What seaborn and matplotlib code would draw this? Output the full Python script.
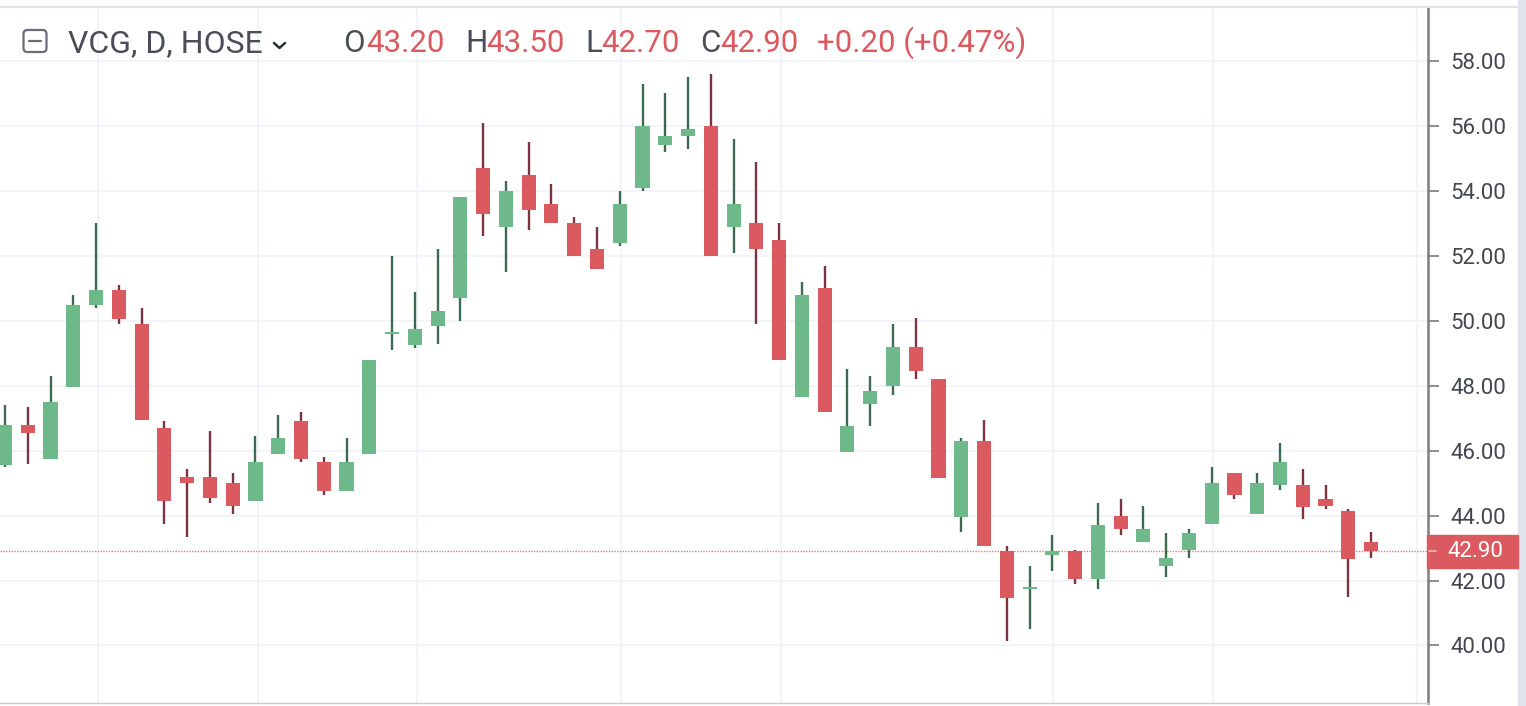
import matplotlib.pyplot as plt
import matplotlib.patches as mpatches
import matplotlib.transforms as mtransforms
from matplotlib.lines import Line2D
import seaborn as sns
import numpy as np

# VCG daily candles (left -> right)
opens = [45.55, 46.80, 45.75, 47.95, 50.50, 50.95, 49.90, 46.70, 45.20, 45.20,
         45.00, 44.45, 45.90, 46.90, 45.65, 44.75, 45.90, 49.60, 49.25, 49.85,
         50.70, 54.70, 52.90, 54.50, 53.60, 53.00, 52.20, 52.40, 54.10, 55.40,
         55.70, 56.00, 52.90, 53.00, 52.50, 47.65, 51.00, 45.95, 47.45, 48.00,
         49.20, 48.20, 43.95, 46.30, 42.90, 41.75, 42.80, 42.90, 42.05, 44.00,
         43.20, 42.45, 42.95, 43.75, 45.30, 44.05, 44.95, 44.95, 44.50, 44.15,
         43.20]
highs = [47.40, 47.35, 48.30, 50.80, 53.00, 51.10, 50.40, 46.90, 45.45, 46.60,
         45.30, 46.45, 47.10, 47.20, 45.80, 46.40, 48.80, 52.00, 50.90, 52.20,
         53.80, 56.10, 54.30, 55.50, 54.20, 53.20, 52.90, 54.00, 57.30, 57.00,
         57.50, 57.60, 55.60, 54.90, 53.00, 51.20, 51.70, 48.50, 48.30, 49.90,
         50.10, 48.20, 46.40, 46.95, 43.05, 42.45, 43.40, 42.95, 44.40, 44.50,
         44.30, 43.45, 43.60, 45.50, 45.30, 45.30, 46.25, 45.45, 44.95, 44.20,
         43.50]
lows = [45.50, 45.60, 45.75, 47.95, 50.40, 49.90, 46.95, 43.75, 43.35, 44.40,
        44.05, 44.45, 45.90, 45.65, 44.65, 44.75, 45.90, 49.10, 49.15, 49.30,
        50.00, 52.60, 51.50, 52.80, 53.00, 52.00, 51.60, 52.30, 54.00, 55.20,
        55.30, 52.00, 52.10, 49.90, 48.80, 47.65, 47.20, 45.95, 46.75, 47.70,
        48.20, 45.15, 43.50, 43.05, 40.15, 40.50, 42.30, 41.90, 41.75, 43.40,
        43.20, 42.10, 42.70, 43.75, 44.50, 44.05, 44.80, 43.90, 44.20, 41.50,
        42.70]
closes = [46.80, 46.55, 47.50, 50.50, 50.95, 50.05, 46.95, 44.45, 45.00, 44.55,
          44.30, 45.65, 46.40, 45.75, 44.75, 45.65, 48.80, 49.60, 49.75, 50.30,
          53.80, 53.30, 54.00, 53.40, 53.00, 52.00, 51.60, 53.60, 56.00, 55.70,
          55.90, 52.00, 53.60, 52.20, 48.80, 50.80, 47.20, 46.75, 47.85, 49.20,
          48.45, 45.15, 46.30, 43.05, 41.45, 41.75, 42.90, 42.05, 43.70, 43.60,
          43.60, 42.70, 43.45, 45.00, 44.65, 45.00, 45.65, 44.25, 44.30, 42.65,
          42.90]

# candle index where the vertical grid lines sit
grid_days = [4.1, 11.1, 18.1, 27.05, 34.1, 46.05, 53.05, 62.0]
price_ticks = [40, 42, 44, 46, 48, 50, 52, 54, 56, 58]
last_price = 42.90

symbol = 'VCG, D, HOSE'
ohlc_labels = ['O', 'H', 'L', 'C']
ohlc_values = ['43.20', '43.50', '42.70', '42.90']
change_text = '+0.20 (+0.47%)'

verde = '#6eb98a'
vermelho = '#da5a60'
pavio_verde = '#3e6a52'
pavio_vermelho = '#7b3340'
texto = '#4a4d57'
grade = '#f0f3fa'

sns.set_style('white')
plt.rcParams['font.family'] = ['Roboto', 'DejaVu Sans']

W, H = 1526, 706
fig = plt.figure(figsize=(W / 100, H / 100), dpi=100)
ax = fig.add_axes([0, 3 / H, 1428 / W, 695 / H])

x = np.arange(len(opens))
o = np.array(opens)
c = np.array(closes)
sobe = c >= o
corpo = np.where(sobe, verde, vermelho)
pavio = np.where(sobe, pavio_verde, pavio_vermelho)
base = np.minimum(o, c)
altura = np.maximum(np.abs(c - o), 0.05)

ax.vlines(x, lows, highs, colors=pavio, linewidth=1.7, zorder=2)
ax.bar(x, altura, bottom=base, width=0.62, color=corpo, linewidth=0, zorder=3)

ax.axhline(last_price, xmin=0, xmax=1.006, color='#e27c80', linestyle=(0, (1, 1)),
           linewidth=1.0, zorder=1, clip_on=False)

ax.set_xlim(-0.22, 62.5)
ax.set_ylim(38.229, 59.633)
ax.set_xticks(grid_days)
ax.set_xticklabels([])
ax.set_yticks(price_ticks)
ax.set_yticklabels([f'{p:.2f}' for p in price_ticks])
ax.grid(True, color=grade, linewidth=1.3, zorder=0)
ax.yaxis.tick_right()
ax.tick_params(axis='x', length=0)
ax.tick_params(axis='y', length=8, width=1.2, color='#787b86', pad=8,
               labelsize=16, labelcolor='#434651')

ax.spines['top'].set_visible(False)
ax.spines['left'].set_visible(False)
ax.spines['right'].set_color('#7d7d7d')
ax.spines['right'].set_linewidth(1.8)
ax.spines['bottom'].set_color('#c8cad0')
ax.spines['bottom'].set_linewidth(1.0)

# last price tag on the price scale
px = mtransforms.IdentityTransform()
fig.canvas.draw()
yp = ax.transData.transform((0, last_price))[1]
fig.add_artist(mpatches.Rectangle((1427, yp - 16.5), 91, 33, transform=px,
                                  color=vermelho, zorder=5))
fig.add_artist(Line2D([1429, 1436], [yp, yp], transform=px, color='#f3b8bb',
                      linewidth=1.2, zorder=6))
fig.text(1447 / W, yp / H, f'{last_price:.2f}', color='white', fontsize=16,
         ha='left', va='center', zorder=6)

# right grey strip and top border
fig.add_artist(mpatches.Rectangle((1518, 0), 8, H, transform=px, color='#e0e3eb'))
fig.add_artist(Line2D([0, W], [H - 7, H - 7], transform=px, color='#e0e3eb', linewidth=1.5))

# header: collapse icon, symbol, chevron, OHLC
fig.add_artist(mpatches.FancyBboxPatch((23.5, H - 52), 23, 22,
                                       boxstyle='round,pad=0,rounding_size=4',
                                       transform=px, fill=False, ec='#6a6d78', lw=1.6))
fig.add_artist(Line2D([29, 41], [H - 41, H - 41], transform=px, color='#6a6d78', lw=1.6))
fig.add_artist(Line2D([274, 279.5, 285], [H - 43, H - 48, H - 43], transform=px,
                      color='#2a2e39', lw=1.8))

baseline = 1 - 52 / H
fig.text(68 / W, baseline, symbol, fontsize=23, color=texto, va='baseline')
label_x = [343, 465, 585, 700]
value_x = [366, 486, 601, 720]
for lx, vx, lab, val in zip(label_x, value_x, ohlc_labels, ohlc_values):
    fig.text(lx / W, baseline, lab, fontsize=22.5, color=texto, va='baseline')
    fig.text(vx / W, baseline, val, fontsize=22.5, color=vermelho, va='baseline')
fig.text(817 / W, baseline, change_text, fontsize=22.5, color=vermelho, va='baseline')

fig.savefig('out.png', dpi=100)
